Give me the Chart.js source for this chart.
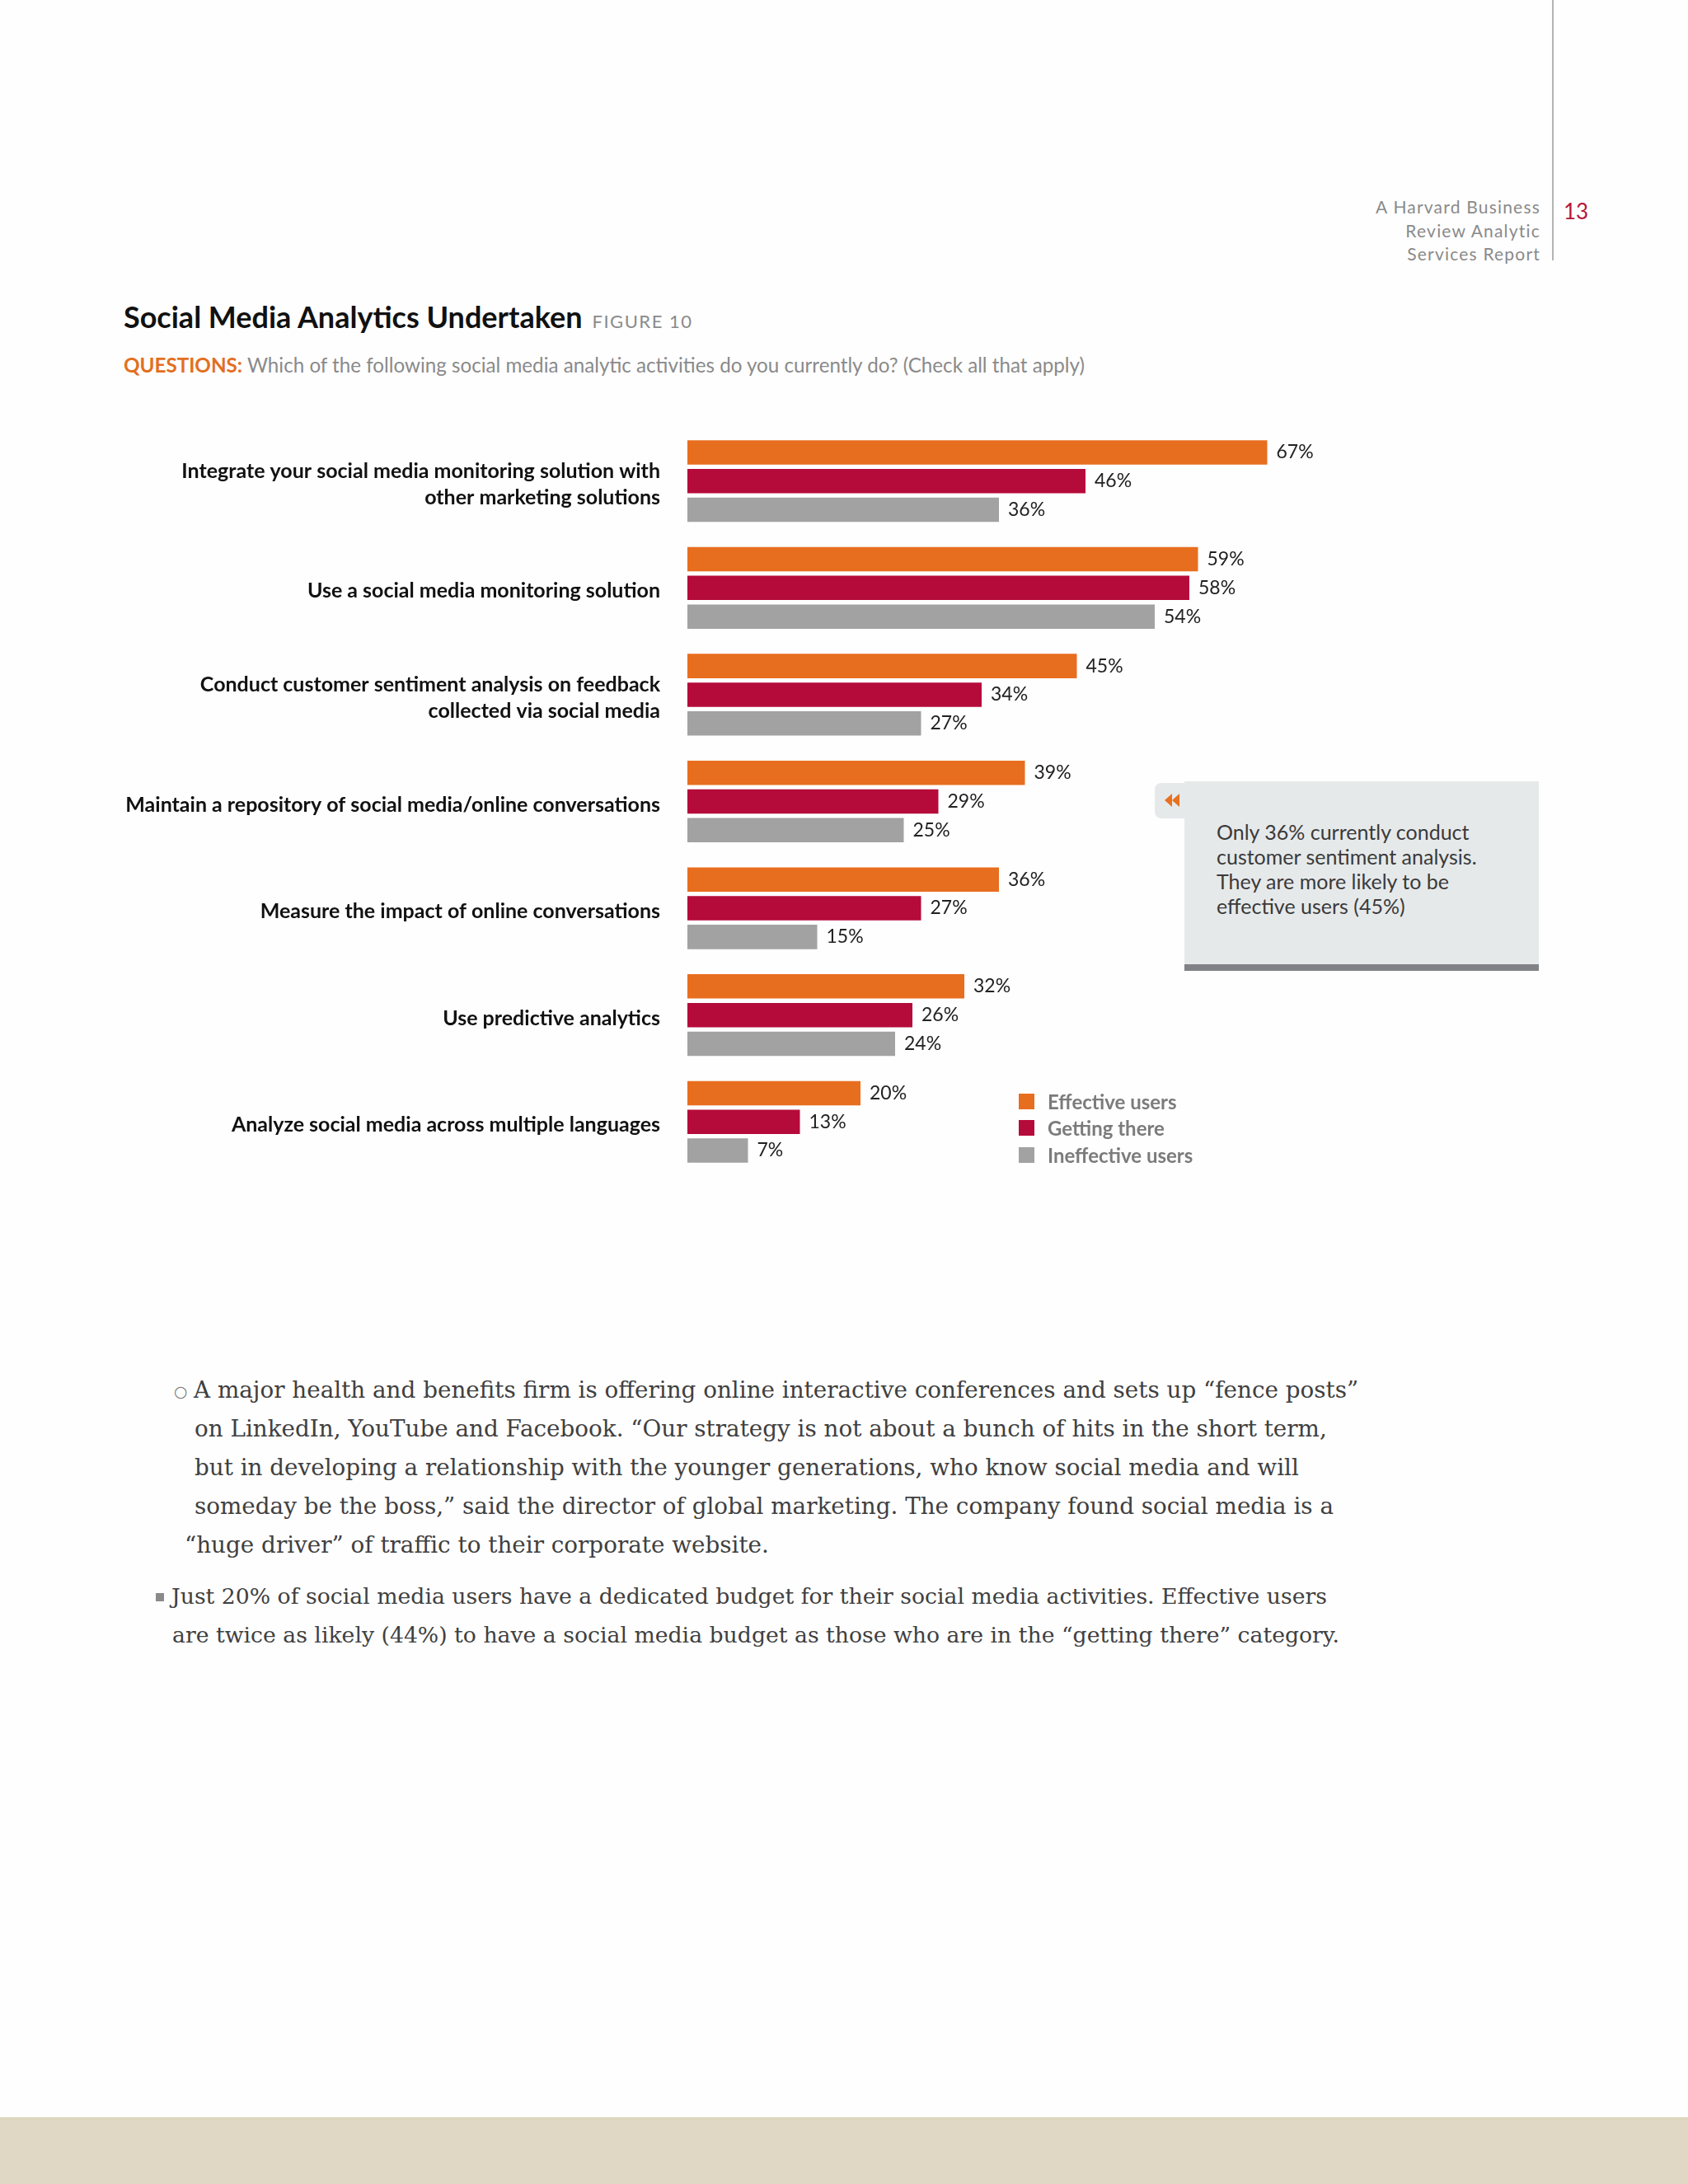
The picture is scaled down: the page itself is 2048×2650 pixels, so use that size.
<!DOCTYPE html>
<html>
<head>
  <meta charset="UTF-8">
  <title>Social Media Analytics Undertaken</title>
  <script src="https://cdn.jsdelivr.net/npm/chart.js"></script>
  <style>
    body {
      margin: 0;
      width: 2048px;
      height: 2650px;
      background: #fefefe;
      position: relative;
      overflow: hidden;
      font-family: 'Lato', sans-serif;
    }
    .abs { position: absolute; }

    /* page header */
    #rule { left: 1883px; top: 0; width: 2px; height: 316px; background: #b4b4b4; }
    #report {
      right: 179px; top: 237px; text-align: right;
      font-size: 21px; line-height: 28.5px; letter-spacing: 1.2px; color: #8a8a8a;
    }
    #pageno { left: 1897px; top: 240px; font-size: 26px; color: #b5163a; }

    #title { left: 150px; top: 362px; font-size: 36px; font-weight: bold; color: #111; white-space: nowrap; }
    #title span { font-size: 22px; font-weight: normal; color: #8a8a8a; letter-spacing: 1.5px; margin-left: 12px; }
    #question { left: 150px; top: 428px; font-size: 24.2px; color: #8a8a8a; white-space: nowrap; }
    #question b { color: #e36f1e; }

    #chartBox { left: 0; top: 500px; width: 1900px; height: 950px; }

    #legend { left: 1236px; top: 1320px; }
    .leg { display: flex; align-items: center; height: 32.5px; font-size: 24px; font-weight: bold; color: #7b7b7b; }
    .leg i { display: inline-block; width: 19px; height: 19px; margin-right: 16px; }

    /* callout */
    #callTab { left: 1401px; top: 950px; width: 40px; height: 43px; background: #e6e9ea; border-radius: 8px 0 0 8px; }
    #callBox {
      left: 1437px; top: 948px; width: 430px; height: 222px;
      background: #e6e9ea; border-bottom: 8px solid #808285;
    }
    #callText {
      left: 1476px; top: 994px; font-size: 25px; line-height: 30px; color: #3a3a3a; white-space: nowrap;
    }

    /* body copy */
    .body {
      font-family: 'DejaVu Serif', serif; font-size: 27.8px; color: #404040; white-space: nowrap;
    }
    .body.b2 { font-size: 26.7px; }
    #band { left: 0; top: 2569px; width: 2048px; height: 81px; background: #e0d8c5; border-top: 3px solid #dcd5bd; }
  </style>
</head>
<body>
  <div id="rule" class="abs"></div>
  <div id="report" class="abs">A Harvard Business<br>Review Analytic<br>Services Report</div>
  <div id="pageno" class="abs">13</div>

  <div id="title" class="abs">Social Media Analytics Undertaken<span>FIGURE 10</span></div>
  <div id="question" class="abs"><b>QUESTIONS:</b> Which of the following social media analytic activities do you currently do? (Check all that apply)</div>

  <div id="chartBox" class="abs"><canvas id="barChart"></canvas></div>

  <div id="callTab" class="abs">
    <svg width="40" height="43" style="position:absolute;left:0;top:0">
      <polygon points="12,21 21,13 21,29" fill="#e8701f"/>
      <polygon points="21,21 30,13 30,29" fill="#e8701f"/>
    </svg>
  </div>
  <div id="callBox" class="abs"></div>
  <div id="callText" class="abs">Only 36% currently conduct<br>customer sentiment analysis.<br>They are more likely to be<br>effective users (45%)</div>

  <div id="legend" class="abs"></div>

  <div class="abs body" style="left:211px;top:1669px;"><span style="font-size:19px;color:#777;">&#9675;</span></div>
  <div class="abs body" style="left:235px;top:1670px;">A major health and benefits firm is offering online interactive conferences and sets up “fence posts”</div>
  <div class="abs body" style="left:236px;top:1717px;">on LinkedIn, YouTube and Facebook. “Our strategy is not about a bunch of hits in the short term,</div>
  <div class="abs body" style="left:236px;top:1764px;">but in developing a relationship with the younger generations, who know social media and will</div>
  <div class="abs body" style="left:236px;top:1811px;">someday be the boss,” said the director of global marketing. The company found social media is a</div>
  <div class="abs body" style="left:224px;top:1858px;">“huge driver” of traffic to their corporate website.</div>

  <div class="abs" style="left:189px;top:1933px;width:10px;height:10px;background:#8a8a8a;"></div>
  <div class="abs body b2" style="left:208px;top:1921px;">Just 20% of social media users have a dedicated budget for their social media activities. Effective users</div>
  <div class="abs body b2" style="left:209px;top:1968px;">are twice as likely (44%) to have a social media budget as those who are in the “getting there” category.</div>

  <div id="band" class="abs"></div>

  <script>
    const categories = [
      ['Integrate your social media monitoring solution with', 'other marketing solutions'],
      'Use a social media monitoring solution',
      ['Conduct customer sentiment analysis on feedback', 'collected via social media'],
      'Maintain a repository of social media/online conversations',
      'Measure the impact of online conversations',
      'Use predictive analytics',
      'Analyze social media across multiple languages'
    ];
    const seriesNames = ['Effective users', 'Getting there', 'Ineffective users'];
    const seriesColors = ['#e86e1f', '#b50b3a', '#a3a2a2'];
    const effectiveUsers = [67, 59, 45, 39, 36, 32, 20];
    const gettingThere = [46, 58, 34, 29, 27, 26, 13];
    const ineffectiveUsers = [36, 54, 27, 25, 15, 24, 7];
    const seriesValues = [effectiveUsers, gettingThere, ineffectiveUsers];

    // value labels at the end of each bar
    const valueLabels = {
      id: 'valueLabels',
      afterDatasetsDraw(chart) {
        const c = chart.ctx;
        c.save();
        c.font = '23px Lato';
        c.fillStyle = '#222';
        c.textAlign = 'left';
        c.textBaseline = 'middle';
        chart.data.datasets.forEach((ds, i) => {
          chart.getDatasetMeta(i).data.forEach((bar, j) => {
            c.fillText(ds.data[j] + '%', bar.x + 11, bar.y);
          });
        });
        c.restore();
      }
    };

    const ctx = document.getElementById('barChart').getContext('2d');
    new Chart(ctx, {
      type: 'bar',
      data: {
        labels: categories,
        datasets: seriesValues.map((vals, i) => ({
          label: seriesNames[i],
          data: vals,
          backgroundColor: seriesColors[i],
          categoryPercentage: 0.806,
          barPercentage: 0.848
        }))
      },
      options: {
        indexAxis: 'y',
        responsive: true,
        maintainAspectRatio: false,
        animation: false,
        layout: { padding: { top: 19, bottom: 24, right: 16, left: 0 } },
        plugins: {
          legend: { display: false },
          tooltip: { enabled: false }
        },
        scales: {
          x: { display: false, min: 0, max: 100 },
          y: {
            grid: { display: false, drawTicks: false },
            border: { display: false },
            afterFit: (scale) => {
              scale.width = 834;
              scale.paddingTop = 0;
              scale.paddingBottom = 0;
            },
            ticks: {
              padding: 33,
              labelOffset: 4,
              color: '#111',
              font: { family: 'Lato', size: 25, weight: 'bold', lineHeight: 1.28 }
            }
          }
        }
      },
      plugins: [valueLabels]
    });

    document.getElementById('legend').innerHTML = seriesNames.map((n, i) =>
      `<div class="leg"><i style="background:${seriesColors[i]}"></i>${n}</div>`).join('');
  </script>
</body>
</html>
